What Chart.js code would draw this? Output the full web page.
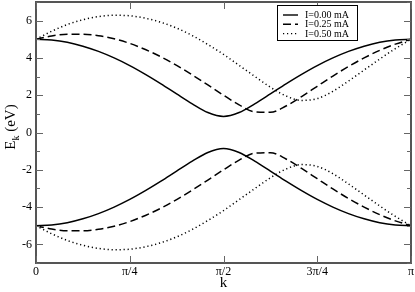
<!DOCTYPE html>
<html>
<head>
<meta charset="utf-8">
<script src="https://cdn.jsdelivr.net/npm/chart.js@4/dist/chart.umd.min.js"></script>
<style>
html,body{margin:0;padding:0;background:#fff;}
#wrap{width:415px;height:292px;position:relative;}
</style>
</head>
<body>
<div id="wrap"><canvas id="c" width="415" height="292"></canvas></div>
<script>
// k in units of pi
const kOverPi = [0,0.0417,0.0833,0.125,0.1667,0.2083,0.25,0.2917,0.3333,0.375,0.4167,0.4583,0.5,
                 0.5417,0.5833,0.625,0.6667,0.7083,0.75,0.7917,0.8333,0.875,0.9167,0.9583,1];
const seriesLabels = ["I=0.00 mA","I=0.25 mA","I=0.50 mA"];
const upper000 = [5.00,4.96,4.84,4.63,4.35,4.00,3.59,3.12,2.61,2.07,1.54,1.07,0.86,1.07,1.54,2.07,2.61,3.12,3.59,4.00,4.35,4.63,4.84,4.96,5.00];
const lower000 = [-5.00,-4.96,-4.84,-4.63,-4.35,-4.00,-3.59,-3.12,-2.61,-2.07,-1.54,-1.07,-0.86,-1.07,-1.54,-2.07,-2.61,-3.12,-3.59,-4.00,-4.35,-4.63,-4.84,-4.96,-5.00];
const upper025 = [5.00,5.18,5.27,5.27,5.19,5.03,4.78,4.45,4.06,3.60,3.09,2.55,2.00,1.48,1.11,1.08,1.42,1.93,2.48,3.03,3.54,4.00,4.41,4.74,5.00];
const lower025 = [-5.00,-5.18,-5.27,-5.27,-5.19,-5.03,-4.78,-4.45,-4.06,-3.60,-3.09,-2.55,-2.00,-1.48,-1.11,-1.08,-1.42,-1.93,-2.48,-3.03,-3.54,-4.00,-4.41,-4.74,-5.00];
const upper050 = [5.00,5.43,5.79,6.05,6.22,6.29,6.26,6.13,5.91,5.60,5.20,4.72,4.19,3.60,3.01,2.43,1.96,1.72,1.82,2.21,2.76,3.35,3.94,4.50,5.00];
const lower050 = [-5.00,-5.43,-5.79,-6.05,-6.22,-6.29,-6.26,-6.13,-5.91,-5.60,-5.20,-4.72,-4.19,-3.60,-3.01,-2.43,-1.96,-1.72,-1.82,-2.21,-2.76,-3.35,-3.94,-4.50,-5.00];
const xTickVals = [0,0.25,0.5,0.75,1];
const xTickLabels = ["0","\u03C0/4","\u03C0/2","3\u03C0/4","\u03C0"];
const yTickVals = [-6,-4,-2,0,2,4,6];
const yMinorVals = [-7,-5,-3,-1,1,3,5,7];
const xTitle = "k";
const yTitleMain = "E", yTitleSub = "k", yTitleRest = " (eV)";

const dashes = [[], [8,4], [1.2,2.8]];
function pts(arr){ return kOverPi.map((k,i)=>({x:k,y:arr[i]})); }
const pairs = [[upper000,lower000],[upper025,lower025],[upper050,lower050]];
const datasets = [];
pairs.forEach((p,si)=>{
  p.forEach((arr,j)=>{
    datasets.push({
      label: seriesLabels[si], data: pts(arr),
      borderColor:'#000', borderWidth:1.5, borderDash: dashes[si],
      pointRadius:0, fill:false, cubicInterpolationMode:'monotone'
    });
  });
});

const SERIF = "'Liberation Serif','Times New Roman',serif";

const deco = {
  id:'deco',
  afterDraw(chart){
    const ctx = chart.ctx, a = chart.chartArea;
    const xs = chart.scales.x, ys = chart.scales.y;
    ctx.save();
    // frame
    ctx.strokeStyle = '#555'; ctx.lineWidth = 2;
    ctx.strokeRect(a.left, a.top, a.right-a.left, a.bottom-a.top);
    // ticks
    ctx.lineWidth = 1; ctx.strokeStyle='#666';
    ctx.beginPath();
    yTickVals.forEach(v=>{
      const y = Math.round(ys.getPixelForValue(v))+0.5;
      ctx.moveTo(a.left, y); ctx.lineTo(a.left+7, y);
      ctx.moveTo(a.right, y); ctx.lineTo(a.right-7, y);
    });
    yMinorVals.forEach(v=>{
      const y = Math.round(ys.getPixelForValue(v))+0.5;
      ctx.moveTo(a.left, y); ctx.lineTo(a.left+4, y);
      ctx.moveTo(a.right, y); ctx.lineTo(a.right-4, y);
    });
    xTickVals.forEach(v=>{
      const x = Math.round(xs.getPixelForValue(v))+0.5;
      ctx.moveTo(x, a.bottom); ctx.lineTo(x, a.bottom-7);
      ctx.moveTo(x, a.top); ctx.lineTo(x, a.top+7);
    });
    ctx.stroke();
    // legend
    const lx=277, ly=5, lw=80, lh=35;
    ctx.fillStyle='#fff'; ctx.fillRect(lx,ly,lw,lh);
    ctx.strokeStyle='#000'; ctx.lineWidth=1;
    ctx.strokeRect(lx+0.5,ly+0.5,lw,lh);
    ctx.font = "10px "+SERIF; ctx.textBaseline='middle'; ctx.textAlign='left';
    seriesLabels.forEach((lab,i)=>{
      const y = 15 + i*9.3;
      ctx.beginPath(); ctx.setLineDash(dashes[i]); ctx.lineWidth=1.4; ctx.strokeStyle='#000';
      ctx.moveTo(283,y); ctx.lineTo(298,y); ctx.stroke();
      ctx.setLineDash([]);
      ctx.fillStyle='#000'; ctx.fillText(lab, 305, y+0.5);
    });
    // x title
    ctx.font = "15px "+SERIF; ctx.textAlign='center'; ctx.textBaseline='middle';
    ctx.fillText(xTitle, (a.left+a.right)/2, 283);
    // y title
    ctx.translate(11, 127); ctx.rotate(-Math.PI/2);
    ctx.textAlign='left'; ctx.textBaseline='middle';
    const f1 = "15px "+SERIF, f2 = "10px "+SERIF;
    ctx.font=f1; const w1 = ctx.measureText(yTitleMain).width, w3 = ctx.measureText(yTitleRest).width;
    ctx.font=f2; const w2 = ctx.measureText(yTitleSub).width;
    let x0 = -(w1+w2+w3)/2;
    ctx.font=f1; ctx.fillText(yTitleMain, x0, 0);
    ctx.font=f2; ctx.fillText(yTitleSub, x0+w1, 5);
    ctx.font=f1; ctx.fillText(yTitleRest, x0+w1+w2, 0);
    ctx.restore();
  }
};

new Chart(document.getElementById('c'), {
  type:'line',
  data:{datasets},
  options:{
    responsive:false, animation:false, devicePixelRatio:1,
    layout:{padding:{left:0,right:4,top:2,bottom:0}},
    plugins:{legend:{display:false}, tooltip:{enabled:false}},
    scales:{
      x:{type:'linear', min:0, max:1,
         afterBuildTicks:s=>{s.ticks = xTickVals.map(v=>({value:v}));},
         afterFit:s=>{s.height=29; s.paddingLeft=0; s.paddingRight=0;},
         grid:{display:false, drawTicks:false}, border:{display:false},
         ticks:{padding:2, color:'#000', maxRotation:0, autoSkip:false,
                font:{family:SERIF, size:12},
                callback:(v)=>{const i=xTickVals.indexOf(v); return i>=0?xTickLabels[i]:'';}}},
      y:{type:'linear', min:-7, max:7,
         afterBuildTicks:s=>{s.ticks = yTickVals.map(v=>({value:v}));},
         afterFit:s=>{s.width=36; s.paddingTop=0; s.paddingBottom=0;},
         grid:{display:false, drawTicks:false}, border:{display:false},
         ticks:{padding:4, color:'#000', font:{family:SERIF, size:12}}}
    }
  },
  plugins:[deco]
});
</script>
</body>
</html>
